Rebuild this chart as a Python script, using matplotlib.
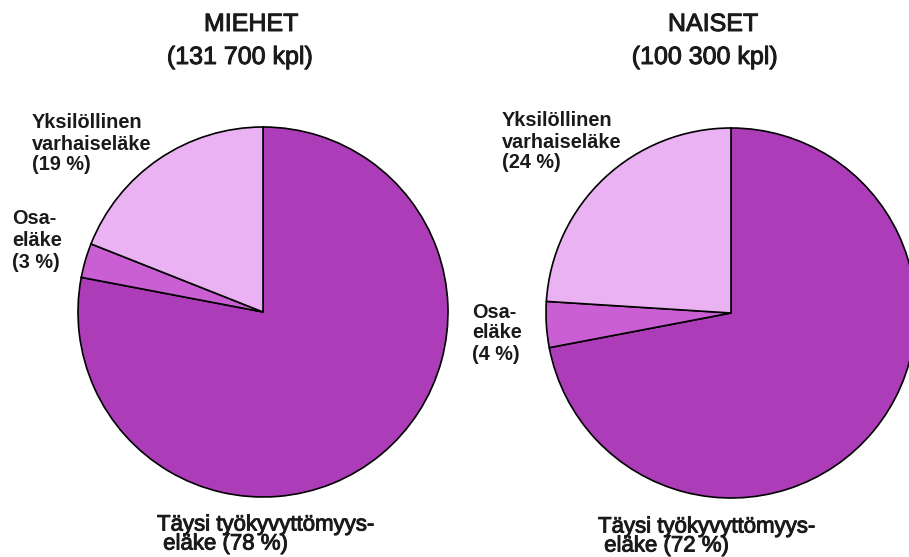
import matplotlib.pyplot as plt
import matplotlib.patheffects as pe

# Työkyvyttömyyseläkkeet sukupuolen mukaan
titles = ['MIEHET', 'NAISET']
counts = ['(131 700 kpl)', '(100 300 kpl)']
categories = ['Täysi työkyvyttömyyseläke', 'Osaeläke', 'Yksilöllinen varhaiseläke']
men_pct = [78, 3, 19]
women_pct = [72, 4, 24]

colors = ['#ad3cb8', '#c95fd3', '#ebb2f3']
H = 557

fig = plt.figure(figsize=(9.09, 5.57), dpi=100)
ax = fig.add_axes([0, 0, 1, 1])

def y(v):
    return H - v

for vals, cx, cy in [(men_pct, 263, 312), (women_pct, 731, 313)]:
    ax.pie(vals, colors=colors, startangle=90, counterclock=False,
           center=(cx, y(cy)), radius=185,
           wedgeprops=dict(edgecolor='black', linewidth=1.2))

ax.set_xlim(0, 909)
ax.set_ylim(0, H)
ax.set_aspect('equal')
ax.axis('off')

sans = ['Liberation Sans', 'DejaVu Sans']
# hieman paksumpi viiva otsikoille (skannattu alkuperäinen)
thick = [pe.withStroke(linewidth=0.7, foreground='#1a1a1a')]

ttl = dict(ha='center', va='center', fontsize=18, family=sans, color='#1a1a1a', path_effects=thick)
ax.text(251, y(24), titles[0], **ttl)
ax.text(240, y(57), counts[0], **ttl)
ax.text(713, y(24), titles[1], **ttl)
ax.text(705, y(57), counts[1], **ttl)

def label(x, ys, lines, **kw):
    for yy, s in zip(ys, lines):
        ax.text(x, y(yy), s, ha='left', va='center', **kw)

bold = dict(fontsize=14.3, fontweight='bold', family=sans, color='#1a1a1a')
label(32, [122, 144, 165], ['Yksilöllinen', 'varhaiseläke', f'({men_pct[2]} %)'], **bold)
label(12, [219, 241, 263], ['Osa-', 'eläke', f'({men_pct[1]} %)'], **bold)
label(502, [120, 142, 163], ['Yksilöllinen', 'varhaiseläke', f'({women_pct[2]} %)'], **bold)
label(472, [312, 333, 354], ['Osa-', 'eläke', f'({women_pct[1]} %)'], **bold)

cond = dict(fontsize=16, family=sans, color='#1a1a1a', path_effects=thick)
label(157, [525, 544], ['Täysi työkyvyttömyys-', f' eläke ({men_pct[0]} %)'], **cond)
label(598, [527, 546], ['Täysi työkyvyttömyys-', f' eläke ({women_pct[0]} %)'], **cond)

fig.savefig('out.png', dpi=100)
